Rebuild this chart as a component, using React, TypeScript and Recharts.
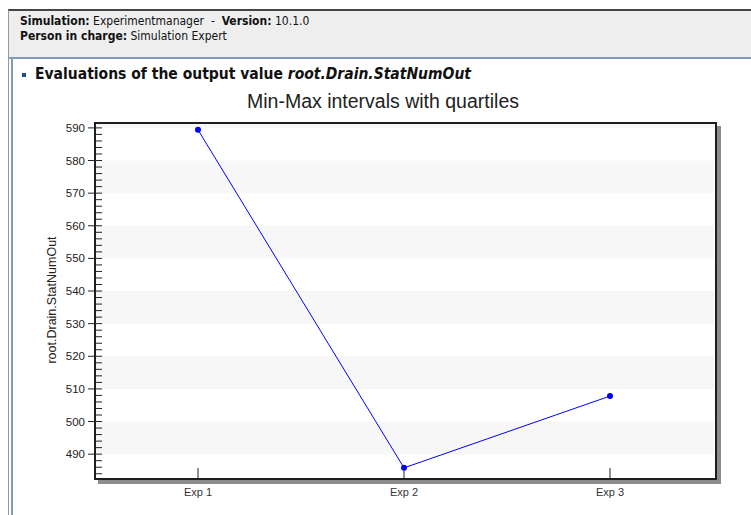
import { CartesianGrid, Line, LineChart, ReferenceArea, XAxis, YAxis } from "recharts";

const experiments = ["Exp 1", "Exp 2", "Exp 3"];
const statNumOut = [589.4, 485.8, 507.8];
const stripeBands = [
  [490, 500],
  [510, 520],
  [530, 540],
  [550, 560],
  [570, 580],
  [590, 600],
];

const data = experiments.map((name, i) => ({ name, value: statNumOut[i] }));

const Y_MIN = 483;
const Y_MAX = 591.5;

// minor ticks every 2 units, majors every 10
const allTicks: number[] = [];
for (let v = 484; v <= 590; v += 2) allTicks.push(v);

const YTick = ({ x, y, payload }: any) => {
  const major = payload.value % 10 === 0;
  return (
    <g>
      <line x1={major ? x - 7 : x} x2={x + 7} y1={y} y2={y} stroke="#222" strokeWidth={1} />
      {major && (
        <text x={x - 10} y={y} textAnchor="end" dominantBaseline="central" fontSize={11.5} fill="#222">
          {payload.value}
        </text>
      )}
    </g>
  );
};

const XTick = ({ x, y, payload }: any) => (
  <g>
    <line x1={x} x2={x} y1={y - 9} y2={y + 4} stroke="#222" strokeWidth={1} />
    <text x={x} y={y + 15} textAnchor="middle" dominantBaseline="central" fontSize={11} fill="#333">
      {payload.value}
    </text>
  </g>
);

export default function App() {
  const font = "Tahoma, 'DejaVu Sans Condensed', 'Liberation Sans', sans-serif";
  return (
    <div style={{ position: "absolute", left: 0, top: 0, width: 751, height: 515, background: "#fff", overflow: "hidden", fontFamily: "'Liberation Sans', Arial, sans-serif" }}>
      {/* header panel */}
      <div style={{ position: "absolute", left: 8, top: 9, width: 743, height: 46, background: "#eeeeee", borderTop: "2px solid #444", borderLeft: "1px solid #999", borderBottom: "2px solid #7f9db9" }} />
      <div style={{ position: "absolute", left: 8, top: 57, width: 1, height: 458, background: "#999" }} />
      <div style={{ position: "absolute", left: 11, top: 57, width: 2, height: 458, background: "#7f9db9" }} />
      <div style={{ position: "absolute", left: 20, top: 14, fontFamily: font, fontSize: 12, lineHeight: "15px", color: "#111" }}>
        <div>
          <b>Simulation:</b> Experimentmanager &nbsp;- &nbsp;<b>Version:</b> 10.1.0
        </div>
        <div>
          <b>Person in charge:</b> Simulation Expert
        </div>
      </div>
      <div style={{ position: "absolute", left: 22, top: 65, fontFamily: font, fontSize: 15.5, fontWeight: "bold", color: "#111", whiteSpace: "nowrap" }}>
        <span style={{ display: "inline-block", width: 4, height: 4, background: "#1f4e8c", marginRight: 9, verticalAlign: "middle" }} />
        Evaluations of the output value <i>root.Drain.StatNumOut</i>
      </div>
      <div style={{ position: "absolute", left: 0, width: 766, top: 90, textAlign: "center", fontSize: 19.5, color: "#222" }}>
        Min-Max intervals with quartiles
      </div>
      <div style={{ position: "absolute", left: 0, top: 0 }}>
        <LineChart width={751} height={515} data={data} margin={{ top: 123, right: 37, bottom: 8, left: 35 }}>
          <CartesianGrid fill="#fff" vertical={false} horizontal={false} />
          <XAxis xAxisId="full" type="number" domain={[0, 1]} hide />
          {stripeBands.map(([a, b], i) => (
            <ReferenceArea key={i} xAxisId="full" y1={a} y2={b} fill="#f7f7f7" fillOpacity={1} stroke="none" ifOverflow="hidden" />
          ))}
          <XAxis
            dataKey="name"
            axisLine={false}
            tickLine={false}
            tickSize={0}
            tickMargin={0}
            height={30}
            padding={{ left: 103, right: 104 }}
            tick={<XTick />}
            interval={0}
          />
          <YAxis
            type="number"
            domain={[Y_MIN, Y_MAX]}
            ticks={allTicks}
            interval={0}
            axisLine={false}
            tickLine={false}
            tickSize={0}
            tickMargin={0}
            width={60}
            tick={<YTick />}
            label={{ value: "root.Drain.StatNumOut", angle: -90, position: "insideLeft", offset: 17, style: { fontSize: 12.5, fill: "#222", textAnchor: "middle" } }}
            allowDataOverflow
          />
          <Line
            type="linear"
            dataKey="value"
            stroke="#0000ff"
            strokeWidth={1}
            dot={{ r: 3, fill: "#0000ff", stroke: "#0000ff", strokeWidth: 0 }}
            isAnimationActive={false}
          />
        </LineChart>
      </div>
      {/* plot frame with shadow */}
      <div style={{ position: "absolute", left: 94, top: 122, width: 619, height: 354, border: "2px solid #1e1e1e", boxShadow: "4px 4px 0 #8c8c8c", pointerEvents: "none" }} />
    </div>
  );
}
